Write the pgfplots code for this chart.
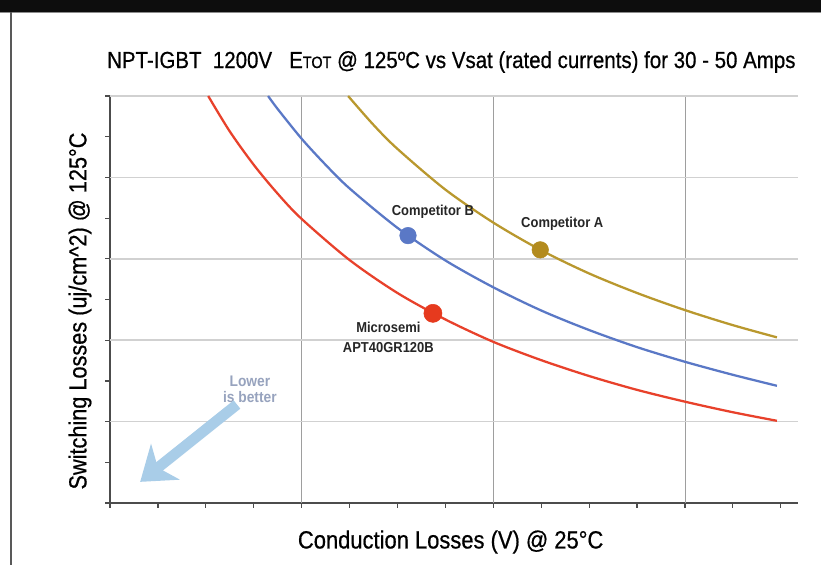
\documentclass[border=0pt]{standalone}
\usepackage{pgfplots}
\pgfplotsset{compat=1.18}
\usepackage{fontspec}
\setmainfont{Liberation Sans}[FakeStretch=0.9]
\newfontfamily\medfont{Liberation Sans}[FakeStretch=0.88, FakeBold=0.6]
\usetikzlibrary{arrows.meta}

\definecolor{redc}{HTML}{E8412B}
\definecolor{bluec}{HTML}{5A78C6}
\definecolor{goldc}{HTML}{B9982E}
\definecolor{golddot}{HTML}{B38B1E}
\definecolor{reddot}{HTML}{E63A1E}
\definecolor{arrowc}{HTML}{A9CDE8}
\definecolor{hintc}{HTML}{97A3BE}

\begin{document}
\begin{tikzpicture}
% page frame: 821 x 565 px, 1 px = 0.75 pt
\useasboundingbox[fill=white] (0,0) rectangle (615.75pt,-423.75pt);
\fill[black!95] (0,0) rectangle (615.75pt,-9pt);
\draw[black!45, line width=0.8pt] (0,-9.2pt) -- (615.75pt,-9.2pt);
\draw[black!65, line width=1.8pt] (8.25pt,-9pt) -- (8.25pt,-423.75pt);

\begin{axis}[
    at={(82.5pt,-377.25pt)}, anchor=south west,
    scale only axis,
    width=516pt, height=305.25pt,
    xmin=0, xmax=14.36,
    ymin=0, ymax=10,
    axis x line*=bottom,
    axis y line*=left,
    axis line style={line width=1.5pt, black!70},
    xtick={0,...,14}, ytick={0,...,10},
    xticklabels={}, yticklabels={},
    tick align=outside,
    major tick length=3.5pt,
    tick style={line width=0.9pt, black!70},
    extra x ticks={4,8,12},
    extra x tick labels={},
    extra x tick style={grid=major, major tick length=0pt,
        major grid style={line width=0.6pt, black!38}},
    extra y ticks={2,4,6,8,10},
    extra y tick labels={},
    extra y tick style={grid=major, major tick length=0pt,
        major grid style={line width=1.2pt, black!18}},
    clip=false,
]

% Microsemi APT40GR120B
\addplot[smooth, redc, line width=1.7pt] coordinates {
    (2.05,10.00) (2.5,9.13) (3,8.31) (3.5,7.60) (4,6.98) (5,5.97)
    (6,5.16) (7,4.51) (8,3.96) (9,3.51) (10,3.12) (11,2.78)
    (12,2.49) (13,2.23) (13.92,2.02)
};
% Competitor B
\addplot[smooth, bluec, line width=1.7pt] coordinates {
    (3.30,10.00) (3.5,9.68) (4,8.95) (4.5,8.31) (5,7.73) (6,6.76)
    (7,5.96) (8,5.30) (9,4.73) (10,4.25) (11,3.83) (12,3.47)
    (13,3.15) (13.92,2.88)
};
% Competitor A
\addplot[smooth, goldc, line width=1.7pt] coordinates {
    (4.97,10.00) (5.5,9.29) (6,8.70) (7,7.70) (8,6.89) (9,6.21)
    (10,5.64) (11,5.16) (12,4.74) (13,4.37) (13.92,4.07)
};

\addplot[only marks, mark=*, mark size=6.8pt, reddot, mark options={draw=reddot}] coordinates {(6.74,4.66)};
\addplot[only marks, mark=*, mark size=6.2pt, bluec, mark options={draw=bluec}] coordinates {(6.22,6.57)};
\addplot[only marks, mark=*, mark size=6.2pt, golddot, mark options={draw=golddot}] coordinates {(8.98,6.22)};

\node[font=\bfseries\fontsize{10.8}{12}\selectfont, black!85] at (axis cs:6.74,7.15) {Competitor B};
\node[font=\bfseries\fontsize{10.8}{12}\selectfont, black!85] at (axis cs:9.44,6.85) {Competitor A};
\node[font=\bfseries\fontsize{10.8}{15}\selectfont, black!85, align=center] at (axis cs:5.81,4.06) {Microsemi\\APT40GR120B};

\node[font=\bfseries\fontsize{11.5}{12}\selectfont, hintc, align=center] at (axis cs:2.92,2.80) {Lower\\is better};
\draw[arrowc, line width=8pt, -{Stealth[length=24pt, width=34pt, inset=7pt]}]
    (axis cs:2.65,2.42) -- (axis cs:0.63,0.52);
\end{axis}

\node[font=\medfont\fontsize{17.45}{19}\selectfont, black] at (338.5pt,-46.5pt)
    {NPT-IGBT\ \ 1200V\ \ \ E{\fontsize{12.3}{14}\selectfont TOT} @ 125ºC vs Vsat (rated currents) for 30 - 50 Amps};
\node[font=\medfont\fontsize{18.5}{20}\selectfont, black, rotate=90] at (60pt,-233.25pt)
    {Switching Losses (uj/cm\^{}2) @ 125°C};
\node[font=\medfont\fontsize{18.7}{20}\selectfont, black] at (338pt,-406.5pt)
    {Conduction Losses (V) @ 25°C};
\end{tikzpicture}
\end{document}
